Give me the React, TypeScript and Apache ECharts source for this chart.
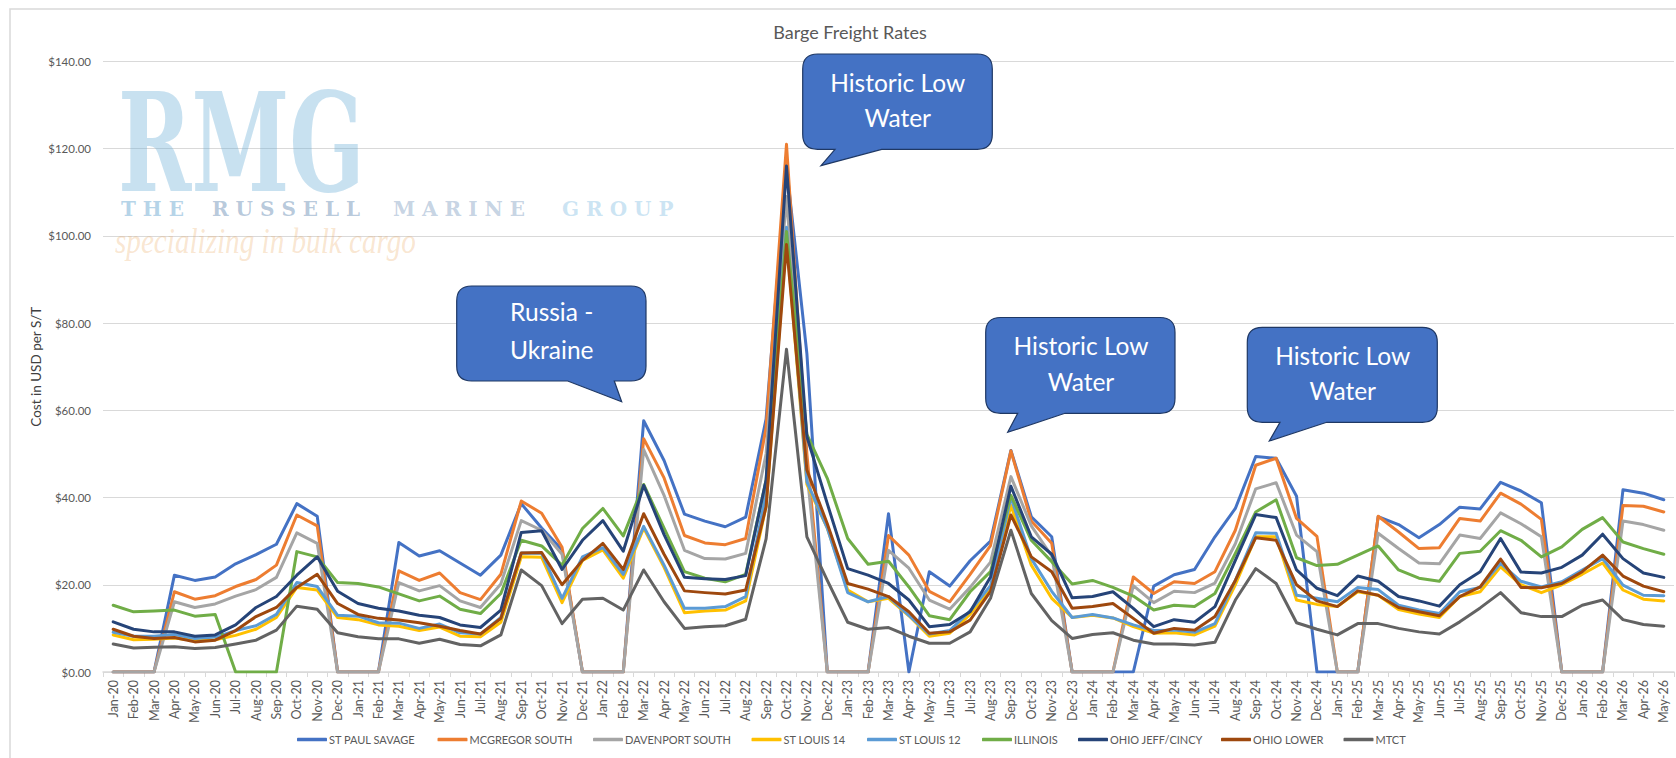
import React, { useEffect, useRef } from "react";
import * as echarts from "echarts";

const categories = [
  "Jan-20","Feb-20","Mar-20","Apr-20","May-20","Jun-20","Jul-20","Aug-20","Sep-20","Oct-20","Nov-20","Dec-20",
  "Jan-21","Feb-21","Mar-21","Apr-21","May-21","Jun-21","Jul-21","Aug-21","Sep-21","Oct-21","Nov-21","Dec-21",
  "Jan-22","Feb-22","Mar-22","Apr-22","May-22","Jun-22","Jul-22","Aug-22","Sep-22","Oct-22","Nov-22","Dec-22",
  "Jan-23","Feb-23","Mar-23","Apr-23","May-23","Jun-23","Jul-23","Aug-23","Sep-23","Oct-23","Nov-23","Dec-23",
  "Jan-24","Feb-24","Mar-24","Apr-24","May-24","Jun-24","Jul-24","Aug-24","Sep-24","Oct-24","Nov-24","Dec-24",
  "Jan-25","Feb-25","Mar-25","Apr-25","May-25","Jun-25","Jul-25","Aug-25","Sep-25","Oct-25","Nov-25","Dec-25",
  "Jan-26","Feb-26","Mar-26","Apr-26","May-26",
];

const stPaulSavage = [
  0,0,0,22.2,21,21.8,24.8,26.9,29.3,38.6,35.7,0,
  0,0,29.7,26.6,27.8,25,22.2,26.8,38.6,33,28,0,
  0,0,57.6,48.5,36.2,34.6,33.3,35.5,58,116,73,0,
  0,0,36.3,0,23,19.7,25.5,30,50.8,35.6,31,0,
  0,0,0,19.7,22.3,23.5,31,37.5,49.4,49,40.3,0,
  0,0,35.6,33.8,30.8,33.8,37.8,37.4,43.5,41.5,38.8,0,
  0,0,41.8,41,39.5,
];
const mcgregorSouth = [
  0,0,0,18.4,16.7,17.5,19.6,21.2,24.5,36,33.5,0,
  0,0,23.2,21,22.7,18.2,16.6,22.4,39.2,36.4,28.6,0,
  0,0,53.5,44.5,31.3,29.6,29.2,30.6,56,121,50,0,
  0,0,31.3,26.8,18.5,16.1,22.4,29,50.7,34.6,29.5,0,
  0,0,21.8,18,20.7,20.3,23,32.5,47.4,49,35.2,31.1,
  0,0,35.7,32.1,28.3,28.5,35.2,34.6,41,38.5,35,0,
  0,0,38.2,38,36.7,
];
const davenportSouth = [
  0,0,0,16.1,14.8,15.6,17.4,18.9,21.7,31.9,29.5,0,
  0,0,20.5,18.6,19.8,16.3,14.8,20.2,34.7,32.5,27,0,
  0,0,51,40.5,27.9,26,25.9,27.2,50,109,46,0,
  0,0,27.9,23.8,16.5,14.4,19.4,25.2,44.8,33.5,26.6,0,
  0,0,19.8,15.9,18.5,18.2,20.4,29.4,42,43.4,31.4,27.6,
  0,0,31.8,28.3,25,24.8,31.4,30.6,36.5,34,31,0,
  0,0,34.6,33.8,32.5,
];
const stLouis14 = [
  8.5,7.4,7.5,7.8,7.2,7.4,8.4,9.8,12.5,19.4,18.8,12.5,
  12,10.8,10.5,9.5,10.3,8.2,8.1,11.4,26.4,26.3,15.9,25.6,
  28,21.5,33,24,13.6,14,14.2,16.3,38,100,43,33,
  18.8,16.1,16.9,12.9,8.2,8.9,13.2,19.2,38.2,24.5,16.9,12.5,
  13,12.4,10.4,8.9,9,8.5,10.5,20,31,31,16.5,15.5,
  15,18.4,17.6,14.3,13.3,12.5,17.3,18.4,24.1,20,18.2,20,
  22.4,25,18.8,16.7,16.3,
];
const stLouis12 = [
  9.1,8.2,8.2,8.6,7.7,8,9.5,10.6,13.2,20.5,19.6,13,
  12.8,11.3,11.2,10,11,9,8.7,12.5,27.3,27.2,16.9,26.4,
  28.5,22.4,33.4,24.5,14.6,14.6,15,17.3,41,102,43.6,33,
  18.2,16.1,17.3,13,8.7,9.5,14,19.8,40,26,18.5,12.5,
  13.2,12.4,10.8,9.5,9.6,9.1,11.1,21,31.9,31.8,17.6,16.9,
  16.1,19.4,18.9,15.3,14.2,13.4,18.4,19.4,24.9,20.8,19.5,20.7,
  23.4,26,19.9,17.6,17.5,
];
const illinois = [
  15.3,13.8,14,14.2,12.8,13.2,0,0,0,27.6,26.4,20.5,
  20.3,19.5,17.9,16.3,17.4,14.4,13.4,18,30.2,28.9,24.5,32.9,
  37.5,31.2,43,33,23,21.5,20.7,22.4,44,101,54.5,44.4,
  30.6,24.7,25.4,19.5,12.9,12,18.4,23,40.5,30.2,25.3,20.2,
  21,19.4,17.4,14.2,15.3,15,18,27.2,36.7,39.5,26.2,24.4,
  24.7,26.8,28.9,23.4,21.5,20.8,27.2,27.7,32.4,30.2,26.4,28.7,
  32.7,35.4,29.8,28.3,27,
];
const ohioJeffCincy = [
  11.5,9.8,9.2,9.2,8.2,8.5,10.8,14.8,17.3,22.2,26.4,18.5,
  15.7,14.6,14,13,12.5,10.8,10.2,14.2,32,32.4,23.5,30.2,
  34.7,27.7,42.8,31.5,21.7,21.4,21.2,22.1,44,116,54,38.6,
  23.7,22.2,20.3,16.5,10.4,10.9,13.8,21.8,42.6,31,27,17,
  17.3,18.4,14.6,10.4,12,11.4,15,25.6,36.1,35.4,23.4,19.2,
  17.5,22,20.8,17.3,16.3,15.1,20,23,30.6,22.9,22.7,24,
  26.8,31.6,26,22.7,21.7,
];
const ohioLower = [
  9.8,8.2,7.7,7.9,6.9,7.3,9.5,12.7,14.8,19.4,22.4,15.7,
  13.2,12.3,11.9,11.3,10.5,9.5,8.7,12.3,27.3,27.4,20,25.6,
  29.5,23.5,36.3,27,18.6,18.2,17.9,18.8,37.9,98,46.3,34,
  20.3,19,17.3,13.8,8.9,9.2,11.9,18.5,36,26.4,23,14.6,
  15,15.7,12.3,8.9,10,9.6,12.7,21,30.8,30.2,20,16.3,
  15,18.6,17.6,14.8,13.8,12.9,17.3,19.5,25.9,19.4,19.3,20.3,
  23,26.8,22,19.7,18.4,
];
const mtct = [
  6.4,5.5,5.7,5.8,5.4,5.6,6.4,7.3,9.6,15.1,14.4,9,
  8.1,7.6,7.6,6.6,7.5,6.3,6,8.5,23.4,19.8,11.1,16.7,
  16.9,14.2,23.4,16.1,10,10.4,10.6,12.1,30.5,74,31,21,
  11.4,9.8,10.2,8.2,6.6,6.6,9.2,16.9,32.5,18,11.8,7.7,
  8.6,9,7.3,6.4,6.4,6.2,6.8,16.5,23.7,20.3,11.3,9.8,
  8.5,11.1,11.1,10,9.2,8.7,11.5,14.7,18.2,13.6,12.7,12.7,
  15.3,16.5,12,10.9,10.5,
];

const seriesNames = ["ST PAUL SAVAGE","MCGREGOR SOUTH","DAVENPORT SOUTH","ST LOUIS 14","ST LOUIS 12","ILLINOIS","OHIO JEFF/CINCY","OHIO LOWER","MTCT"];
const seriesValues = [stPaulSavage, mcgregorSouth, davenportSouth, stLouis14, stLouis12, illinois, ohioJeffCincy, ohioLower, mtct];
const seriesColors = ["#4472C4","#ED7D31","#A5A5A5","#FFC000","#5B9BD5","#70AD47","#264478","#9E480E","#636363"];
const legendLefts = [297, 437.5, 593, 751.5, 867, 982, 1078, 1221, 1343.5];

const FONT = "Lato, 'Noto Sans', sans-serif";

function calloutPath(x0: number, y0: number, x1: number, y1: number, baseR: number, tipX: number, tipY: number, baseL: number) {
  const r = 15;
  return `M${x0 + r} ${y0}H${x1 - r}Q${x1} ${y0} ${x1} ${y0 + r}V${y1 - r}Q${x1} ${y1} ${x1 - r} ${y1}H${baseR}L${tipX} ${tipY}L${baseL} ${y1}H${x0 + r}Q${x0} ${y1} ${x0} ${y1 - r}V${y0 + r}Q${x0} ${y0} ${x0 + r} ${y0}Z`;
}

const callouts = [
  { name: "calloutRussia", d: calloutPath(456.7, 286, 646, 381, 614.3, 621.7, 401.7, 567.7), cx: 551.7, lines: [["Russia -", 311], ["Ukraine", 349]] },
  { name: "calloutOct22", d: calloutPath(802.7, 54, 992.3, 149.3, 881.7, 821, 165.7, 835), cx: 897.7, lines: [["Historic Low", 82], ["Water", 117]] },
  { name: "calloutSep23", d: calloutPath(985.7, 317.5, 1175, 413.3, 1065, 1007.7, 432.3, 1017.7), cx: 1081, lines: [["Historic Low", 345], ["Water", 381]] },
  { name: "calloutSep24", d: calloutPath(1247.3, 327.3, 1437.3, 422.3, 1326.7, 1269.3, 441, 1280), cx: 1342.7, lines: [["Historic Low", 355], ["Water", 390.5]] },
];
callouts.forEach((c) => {
  echarts.graphic.registerShape(c.name, echarts.graphic.extendPath(c.d, {}));
});

const logoWords = [
  { text: "T H E", x: 121, fill: "rgba(110,170,210,0.5)" },
  { text: "R U S S E L L", x: 212, fill: "rgba(95,135,175,0.45)" },
  { text: "M A R I N E", x: 393, fill: "rgba(110,145,185,0.4)" },
  { text: "G R O U P", x: 562, fill: "rgba(120,185,225,0.38)" },
];

export default function App() {
  const ref = useRef<HTMLDivElement>(null);
  useEffect(() => {
    const chart = echarts.init(ref.current!, null, { renderer: "svg" });
    const graphics: any[] = [
      { type: "rect", z: 0, silent: true, shape: { x: 10, y: 9, width: 1720, height: 800 }, style: { fill: "none", stroke: "#D9D9D9", lineWidth: 1.5 } },
      { type: "text", z: 5, silent: true, x: 118, y: 143, scaleX: 0.645, style: { text: "RMG", font: "bold 137px 'DejaVu Serif'", fill: "rgba(110,175,215,0.38)", textAlign: "left", textVerticalAlign: "middle" } },
      ...logoWords.map((w) => ({ type: "text", z: 5, silent: true, x: w.x, y: 209, style: { text: w.text, font: "bold 20px 'DejaVu Serif'", fill: w.fill, textAlign: "left", textVerticalAlign: "middle" } })),
      { type: "text", z: 5, silent: true, x: 115, y: 241, scaleX: 0.81, style: { text: "specializing in bulk cargo", font: "italic 36px 'Liberation Serif'", fill: "rgba(235,170,100,0.3)", textAlign: "left", textVerticalAlign: "middle" } },
    ];
    callouts.forEach((c) => {
      graphics.push({ type: c.name, z: 20, silent: true, style: { fill: "#4472C4", stroke: "#1F3864", lineWidth: 1.2 } });
      c.lines.forEach((l) => {
        graphics.push({ type: "text", z: 21, silent: true, x: c.cx, y: l[1], style: { text: l[0], font: `24.5px ${FONT}`, fill: "#FFFFFF", textAlign: "center", textVerticalAlign: "middle" } });
      });
    });
    chart.setOption({
      animation: false,
      backgroundColor: "#FFFFFF",
      title: { text: "Barge Freight Rates", left: 845, top: 18, textAlign: "center", textStyle: { fontFamily: FONT, fontSize: 18, fontWeight: "normal", color: "#595959" } },
      grid: { left: 103, right: 2, top: 61.4, bottom: 86, containLabel: false },
      legend: seriesNames.map((n, i) => ({
        data: [n], left: legendLefts[i], top: 734, itemWidth: 30, itemHeight: 3.5, icon: "roundRect", itemGap: 0, padding: 0,
        textStyle: { fontFamily: FONT, fontSize: 11, color: "#595959", padding: [0, 0, 0, -3] },
      })),
      xAxis: {
        type: "category", data: categories, boundaryGap: true,
        axisLine: { lineStyle: { color: "#D9D9D9", width: 1.5 } },
        axisTick: { show: true, length: 5, alignWithLabel: false, interval: 0, lineStyle: { color: "#D9D9D9", width: 1 } },
        axisLabel: { interval: 0, rotate: 90, margin: 8, fontFamily: FONT, fontSize: 12.5, color: "#595959" },
      },
      yAxis: {
        type: "value", min: 0, max: 140, interval: 20,
        name: "Cost in USD per S/T", nameLocation: "middle", nameGap: 60, nameRotate: 90, nameMoveOverlap: false,
        nameTextStyle: { fontFamily: FONT, fontSize: 13.5, color: "#404040" },
        axisLine: { show: false }, axisTick: { show: false },
        axisLabel: { margin: 12, fontFamily: FONT, fontSize: 11.5, color: "#595959", formatter: (v: number) => `$${v.toFixed(2)}` },
        splitLine: { lineStyle: { color: "#D9D9D9", width: 1.2 } },
      },
      series: seriesNames.map((n, i) => ({
        name: n, type: "line", data: seriesValues[i], symbol: "none", smooth: false,
        itemStyle: { color: seriesColors[i] },
        lineStyle: { color: seriesColors[i], width: 3, join: "round", cap: "round" },
      })),
      graphic: { elements: graphics },
    });
    return () => chart.dispose();
  }, []);
  return <div ref={ref} style={{ position: "fixed", left: 0, top: 0, width: 1676, height: 758 }} />;
}
